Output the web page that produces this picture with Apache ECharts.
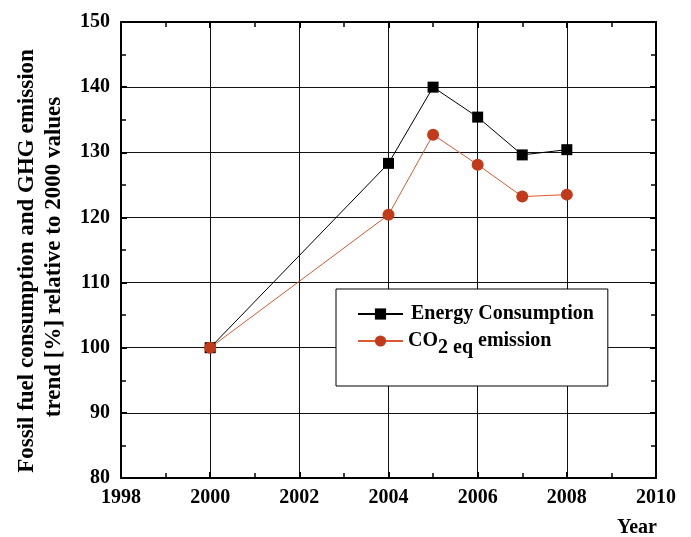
<!DOCTYPE html>
<html><head><meta charset="utf-8">
<script src="https://cdn.jsdelivr.net/npm/echarts@6/dist/echarts.min.js"></script>
<style>html,body{margin:0;padding:0;background:#fff}#c{width:691px;height:537px}</style>
</head><body><div id="c"></div>
<script>
const years = [2000, 2004, 2005, 2006, 2007, 2008];
const energyConsumption = [100, 128.3, 140.0, 135.4, 129.6, 130.4];
const co2eqEmission = [100, 120.4, 132.7, 128.1, 123.2, 123.5];
const seriesNames = ['Energy Consumption', 'CO2 eq emission'];
const yTitleLines = ['Fossil fuel consumption and GHG emission', 'trend [%] relative to 2000 values'];
const xTitle = 'Year';

const FONT = 'Liberation Serif, Times New Roman, serif';
const chart = echarts.init(document.getElementById('c'), null, {renderer: 'canvas'});

function mkX(pos, labels) {
  return {
    type: 'value', position: pos, min: 1998, max: 2010, interval: 2,
    axisLine: {show: true, onZero: false, lineStyle: {color: '#000', width: 2}},
    axisTick: {show: true, inside: true, length: 6, lineStyle: {color: '#000', width: 2}},
    minorTick: {show: true, splitNumber: 2, length: 5, lineStyle: {color: '#000', width: 1.5}},
    splitLine: {show: labels, lineStyle: {color: '#111', width: 1}},
    axisLabel: {show: labels, color: '#000', fontFamily: FONT, fontWeight: 'bold', fontSize: 20, margin: 10,
      formatter: v => String(v)}
  };
}
function mkY(pos, labels) {
  return {
    type: 'value', position: pos, min: 80, max: 150, interval: 10,
    axisLine: {show: true, onZero: false, lineStyle: {color: '#000', width: 2}},
    axisTick: {show: true, inside: true, length: 6, lineStyle: {color: '#000', width: 2}},
    minorTick: {show: true, splitNumber: 2, length: 5, lineStyle: {color: '#000', width: 1.5}},
    splitLine: {show: labels, lineStyle: {color: '#111', width: 1}},
    axisLabel: {show: labels, color: '#000', fontFamily: FONT, fontWeight: 'bold', fontSize: 20, margin: 11}
  };
}

const option = {
  backgroundColor: '#fff',
  animation: false,
  grid: {left: 121, right: 35, top: 22, bottom: 59},
  xAxis: [mkX('bottom', true), mkX('top', false)],
  yAxis: [mkY('left', true), mkY('right', false)],
  legend: {
    orient: 'vertical', left: 336, top: 289,
    padding: [15, 14, 28, 21], itemGap: 0,
    itemWidth: 45, itemHeight: 14,
    backgroundColor: '#fff',
    borderColor: '#000', borderWidth: 1,
    data: seriesNames,
    formatter: function (name) {
      if (name === seriesNames[1]) return '{n|CO}{s|2 eq}{n| emission}';
      return '{a|' + name + '}';
    },
    textStyle: {
      color: '#000', fontFamily: FONT, fontWeight: 'bold', fontSize: 20,
      rich: {
        a: {fontFamily: FONT, fontWeight: 'bold', fontSize: 20, lineHeight: 20, color: '#000', padding: [0, 0, 0, 3]},
        n: {fontFamily: FONT, fontWeight: 'bold', fontSize: 20, lineHeight: 20, padding: [7, 0, 7, 0], color: '#000'},
        s: {fontFamily: FONT, fontWeight: 'bold', fontSize: 20, lineHeight: 20, padding: [14, 0, 0, 0], color: '#000'}
      }
    }
  },
  graphic: [
    {type: 'text', x: 27, y: 261, rotation: Math.PI / 2,
      style: {text: yTitleLines[0], font: 'bold 23px ' + FONT, fill: '#000', align: 'center', verticalAlign: 'middle'}},
    {type: 'text', x: 54, y: 257, rotation: Math.PI / 2,
      style: {text: yTitleLines[1], font: 'bold 23px ' + FONT, fill: '#000', align: 'center', verticalAlign: 'middle'}},
    {type: 'text', x: 637, y: 528,
      style: {text: xTitle, font: 'bold 20px ' + FONT, fill: '#000', align: 'center', verticalAlign: 'middle'}}
  ],
  series: [
    {
      name: seriesNames[0], type: 'line', xAxisIndex: 0, yAxisIndex: 0,
      data: years.map((y, i) => [y, energyConsumption[i]]),
      symbol: 'rect', symbolSize: 11,
      lineStyle: {color: '#000', width: 1},
      itemStyle: {color: '#000'}, z: 3
    },
    {
      name: seriesNames[1], type: 'line', xAxisIndex: 0, yAxisIndex: 0,
      data: years.map((y, i) => [y, co2eqEmission[i]]),
      symbol: 'circle', symbolSize: 12,
      lineStyle: {color: '#dc5a30', width: 1},
      itemStyle: {color: '#c13a1a'}, z: 4
    }
  ]
};
chart.setOption(option);
</script>
</body></html>
